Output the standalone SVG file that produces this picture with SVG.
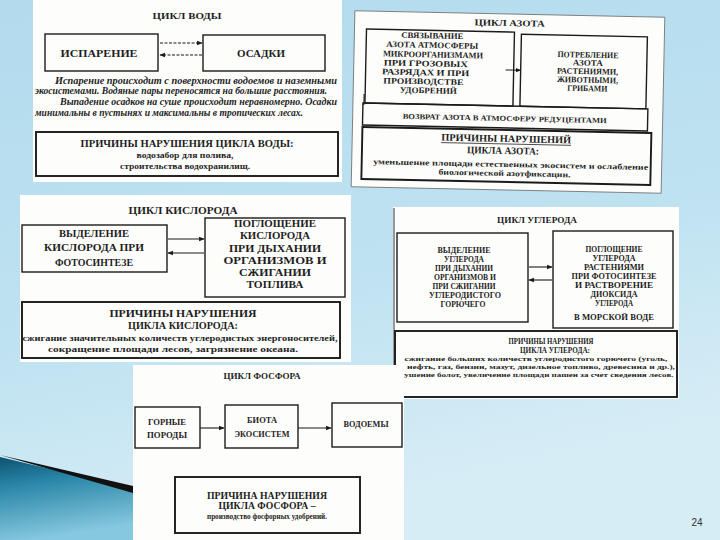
<svg xmlns="http://www.w3.org/2000/svg" width="720" height="540" viewBox="0 0 720 540">
<defs>
<linearGradient id="bg" x1="0" y1="0" x2="0.3" y2="1">
<stop offset="0" stop-color="#b2dbed"/>
<stop offset="0.6" stop-color="#bfe2f1"/>
<stop offset="1" stop-color="#d7edf6"/>
</linearGradient>
<linearGradient id="sw" x1="0" y1="0" x2="0.25" y2="1">
<stop offset="0" stop-color="#0c5272"/>
<stop offset="0.35" stop-color="#2a86a8"/>
<stop offset="1" stop-color="#86c8df"/>
</linearGradient>
<marker id="ah" viewBox="0 0 10 10" refX="9" refY="5" markerWidth="5" markerHeight="5" orient="auto"><path d="M0,1 L10,5 L0,9 z" fill="#1a1a1a"/></marker>
<style>
.pn{fill:#fdfdfb}
.bx{fill:none;stroke:#1b1b1b;stroke-width:1.4}
.bk{fill:none;stroke:#1b1b1b;stroke-width:1.9}
.t{font-family:"Liberation Serif","DejaVu Serif",serif;font-weight:bold;fill:#1e1e1e;text-anchor:middle}
.l{font-family:"Liberation Serif","DejaVu Serif",serif;font-weight:bold;fill:#262626;text-anchor:middle}
.it{font-family:"Liberation Serif","DejaVu Serif",serif;font-weight:bold;font-style:italic;fill:#1e1e1e;font-size:10px}
.cn{fill:none;stroke:#1b1b1b;stroke-width:1.1}
</style>
</defs>
<rect width="720" height="540" fill="url(#bg)"/>
<g id="swoosh">
<path d="M0,457 L133,489 L133,540 L0,540 Z" fill="url(#sw)"/>
<path d="M0,455 L133,486 L133,493 Z" fill="#111"/>
</g>

<g id="water">
<rect class="pn" x="33" y="0" width="309" height="182"/>
<text class="t" x="187" y="19" font-size="9" textLength="69" lengthAdjust="spacingAndGlyphs">ЦИКЛ ВОДЫ</text>
<g id="w-isparenie"><rect class="bx" x="45" y="34" width="113" height="37"/><text class="t" x="99" y="57" font-size="11" textLength="77" lengthAdjust="spacingAndGlyphs">ИСПАРЕНИЕ</text></g>
<g id="w-osadki"><rect class="bx" x="203" y="35" width="122" height="36"/><text class="t" x="261" y="57" font-size="10.5" textLength="48" lengthAdjust="spacingAndGlyphs">ОСАДКИ</text></g>
<text class="it" x="55" y="84" textLength="282" lengthAdjust="spacingAndGlyphs">Испарение происходит с поверхности водоемов и наземными</text>
<text class="it" x="35" y="94" textLength="292" lengthAdjust="spacingAndGlyphs">экосистемами. Водяные пары переносятся на большие расстояния.</text>
<text class="it" x="60" y="105" textLength="277" lengthAdjust="spacingAndGlyphs">Выпадение осадков на суше происходит неравномерно. Осадки</text>
<text class="it" x="35" y="116" textLength="268" lengthAdjust="spacingAndGlyphs">минимальны в пустынях и максимальны в тропических лесах.</text>
<g id="w-causes"><rect class="bk" x="36" y="132" width="302" height="44"/>
<text class="t" x="187" y="147" font-size="10" textLength="213" lengthAdjust="spacingAndGlyphs">ПРИЧИНЫ НАРУШЕНИЯ ЦИКЛА ВОДЫ:</text>
<text class="l" x="185" y="158" font-size="8.5" textLength="97" lengthAdjust="spacingAndGlyphs">водозабор для полива,</text>
<text class="l" x="185" y="169" font-size="8.5" textLength="130" lengthAdjust="spacingAndGlyphs">строительства водохранилищ.</text></g>
</g>

<g id="nitrogen" transform="rotate(1.2 508 102)">
<rect class="pn" x="353" y="14" width="310" height="176" stroke="#666" stroke-width="0.8"/>
<text class="t" x="508" y="26" font-size="9" textLength="70" lengthAdjust="spacingAndGlyphs">ЦИКЛ АЗОТА</text>
<g id="n-svyaz"><rect class="bx" x="365" y="32" width="148" height="74"/>
<text class="t" x="431" y="40" font-size="8.5" textLength="62" lengthAdjust="spacingAndGlyphs">СВЯЗЫВАНИЕ</text>
<text class="t" x="431" y="49.5" font-size="8.5" textLength="92" lengthAdjust="spacingAndGlyphs">АЗОТА АТМОСФЕРЫ</text>
<text class="t" x="432" y="59" font-size="8.5" textLength="100" lengthAdjust="spacingAndGlyphs">МИКРООРГАНИЗМАМИ</text>
<text class="t" x="425" y="68" font-size="8.5" textLength="84" lengthAdjust="spacingAndGlyphs">ПРИ ГРОЗОВЫХ</text>
<text class="t" x="425" y="77" font-size="8.5" textLength="87" lengthAdjust="spacingAndGlyphs">РАЗРЯДАХ И ПРИ</text>
<text class="t" x="423" y="86" font-size="8.5" textLength="80" lengthAdjust="spacingAndGlyphs">ПРОИЗВОДСТВЕ</text>
<text class="t" x="428" y="95" font-size="8.5" textLength="57" lengthAdjust="spacingAndGlyphs">УДОБРЕНИЙ</text></g>
<g id="n-potreb"><rect class="bx" x="520" y="34" width="126" height="72"/>
<text class="t" x="587" y="56" font-size="8.5" textLength="61" lengthAdjust="spacingAndGlyphs">ПОТРЕБЛЕНИЕ</text>
<text class="t" x="587" y="64" font-size="8.5" textLength="30" lengthAdjust="spacingAndGlyphs">АЗОТА</text>
<text class="t" x="587" y="72.5" font-size="8.5" textLength="61" lengthAdjust="spacingAndGlyphs">РАСТЕНИЯМИ,</text>
<text class="t" x="587" y="81" font-size="8.5" textLength="61" lengthAdjust="spacingAndGlyphs">ЖИВОТНЫМИ,</text>
<text class="t" x="587" y="89.5" font-size="8.5" textLength="40" lengthAdjust="spacingAndGlyphs">ГРИБАМИ</text></g>
<g id="n-return"><rect class="bx" x="363" y="106" width="285" height="22"/>
<text class="l" x="505" y="121" font-size="7.5" font-weight="normal" textLength="204" lengthAdjust="spacingAndGlyphs">ВОЗВРАТ АЗОТА В АТМОСФЕРУ РЕДУЦЕНТАМИ</text></g>
<g id="n-causes"><rect class="bk" x="363" y="130" width="289" height="52"/>
<text class="t" x="507" y="142" font-size="10" textLength="130" lengthAdjust="spacingAndGlyphs">ПРИЧИНЫ НАРУШЕНИЙ</text>
<line x1="442" y1="144" x2="572" y2="144" stroke="#222" stroke-width="0.8"/>
<text class="t" x="504" y="154" font-size="10" textLength="72" lengthAdjust="spacingAndGlyphs">ЦИКЛА АЗОТА:</text>
<text class="l" x="512" y="167" font-size="8" textLength="275" lengthAdjust="spacingAndGlyphs">уменьшение площади естественных экосистем и ослабление</text>
<text class="l" x="506" y="176" font-size="8" textLength="132" lengthAdjust="spacingAndGlyphs">биологической азотфиксации.</text></g>
</g>

<g id="oxygen">
<rect class="pn" x="20" y="195" width="331" height="167"/>
<text class="t" x="183" y="214" font-size="9.5" textLength="109" lengthAdjust="spacingAndGlyphs">ЦИКЛ КИСЛОРОДА</text>
<g id="o-vydel"><rect class="bx" x="22" y="225" width="145" height="47"/>
<text class="t" x="94" y="237" font-size="10.5" textLength="70" lengthAdjust="spacingAndGlyphs">ВЫДЕЛЕНИЕ</text>
<text class="t" x="94" y="251" font-size="10.5" textLength="100" lengthAdjust="spacingAndGlyphs">КИСЛОРОДА ПРИ</text>
<text class="t" x="94" y="266" font-size="10.5" textLength="78" lengthAdjust="spacingAndGlyphs">ФОТОСИНТЕЗЕ</text></g>
<g id="o-pogl"><rect class="bx" x="205" y="218" width="140" height="79"/>
<text class="t" x="275" y="227" font-size="10.5" textLength="82" lengthAdjust="spacingAndGlyphs">ПОГЛОЩЕНИЕ</text>
<text class="t" x="275" y="239" font-size="10.5" textLength="70" lengthAdjust="spacingAndGlyphs">КИСЛОРОДА</text>
<text class="t" x="275" y="252" font-size="10.5" textLength="92" lengthAdjust="spacingAndGlyphs">ПРИ ДЫХАНИИ</text>
<text class="t" x="275" y="264" font-size="10.5" textLength="103" lengthAdjust="spacingAndGlyphs">ОРГАНИЗМОВ И</text>
<text class="t" x="275" y="276" font-size="10.5" textLength="72" lengthAdjust="spacingAndGlyphs">СЖИГАНИИ</text>
<text class="t" x="275" y="288" font-size="10.5" textLength="57" lengthAdjust="spacingAndGlyphs">ТОПЛИВА</text></g>
<g id="o-causes"><rect class="bk" x="22" y="302" width="318" height="56"/>
<text class="t" x="183" y="317" font-size="10.5" textLength="147" lengthAdjust="spacingAndGlyphs">ПРИЧИНЫ НАРУШЕНИЯ</text>
<text class="t" x="183" y="329" font-size="10.5" textLength="110" lengthAdjust="spacingAndGlyphs">ЦИКЛА КИСЛОРОДА:</text>
<text class="l" x="180" y="341" font-size="8.5" textLength="315" lengthAdjust="spacingAndGlyphs">сжигание значительных количеств углеродистых энергоносителей,</text>
<text class="l" x="173" y="352" font-size="8.5" textLength="250" lengthAdjust="spacingAndGlyphs">сокращение площади лесов, загрязнение океана.</text></g>
</g>

<g id="carbon">
<rect class="pn" x="393" y="207" width="286" height="192"/>
<line x1="394" y1="208" x2="394" y2="366" stroke="#333" stroke-width="1"/>
<text class="t" x="537" y="223" font-size="8.5" textLength="80" lengthAdjust="spacingAndGlyphs">ЦИКЛ УГЛЕРОДА</text>
<g id="c-vydel"><rect class="bx" x="397" y="233" width="131" height="89"/>
<text class="t" x="464" y="253" font-size="8" textLength="53" lengthAdjust="spacingAndGlyphs">ВЫДЕЛЕНИЕ</text>
<text class="t" x="464" y="262" font-size="8" textLength="40" lengthAdjust="spacingAndGlyphs">УГЛЕРОДА</text>
<text class="t" x="464" y="271" font-size="8" textLength="58" lengthAdjust="spacingAndGlyphs">ПРИ ДЫХАНИИ</text>
<text class="t" x="465" y="280" font-size="8" textLength="62" lengthAdjust="spacingAndGlyphs">ОРГАНИЗМОВ И</text>
<text class="t" x="464" y="289" font-size="8" textLength="63" lengthAdjust="spacingAndGlyphs">ПРИ СЖИГАНИИ</text>
<text class="t" x="465" y="297.5" font-size="8" textLength="72" lengthAdjust="spacingAndGlyphs">УГЛЕРОДИСТОГО</text>
<text class="t" x="463" y="307" font-size="8" textLength="45" lengthAdjust="spacingAndGlyphs">ГОРЮЧЕГО</text></g>
<g id="c-pogl"><rect class="bx" x="553" y="231" width="120" height="97"/>
<text class="t" x="614" y="252" font-size="8" textLength="57" lengthAdjust="spacingAndGlyphs">ПОГЛОЩЕНИЕ</text>
<text class="t" x="614" y="261" font-size="8" textLength="43" lengthAdjust="spacingAndGlyphs">УГЛЕРОДА</text>
<text class="t" x="614" y="270" font-size="8" textLength="60" lengthAdjust="spacingAndGlyphs">РАСТЕНИЯМИ</text>
<text class="t" x="614" y="279" font-size="8" textLength="85" lengthAdjust="spacingAndGlyphs">ПРИ ФОТОСИНТЕЗЕ</text>
<text class="t" x="614" y="288" font-size="8" textLength="78" lengthAdjust="spacingAndGlyphs">И РАСТВОРЕНИЕ</text>
<text class="t" x="614" y="297" font-size="8" textLength="47" lengthAdjust="spacingAndGlyphs">ДИОКСИДА</text>
<text class="t" x="614" y="306" font-size="8" textLength="38" lengthAdjust="spacingAndGlyphs">УГЛЕРОДА</text>
<text class="t" x="614" y="320" font-size="8" textLength="80" lengthAdjust="spacingAndGlyphs">В МОРСКОЙ ВОДЕ</text></g>
<g id="c-causes"><rect class="bk" x="395" y="331" width="282" height="66"/>
<text class="t" x="551" y="344" font-size="8" textLength="85" lengthAdjust="spacingAndGlyphs">ПРИЧИНЫ НАРУШЕНИЯ</text>
<text class="t" x="555" y="352.5" font-size="8" textLength="70" lengthAdjust="spacingAndGlyphs">ЦИКЛА УГЛЕРОДА:</text>
<text class="l" x="536" y="361" font-size="7" textLength="263" lengthAdjust="spacingAndGlyphs">сжигание больших количеств углеродистого  горючего (уголь,</text>
<text class="l" x="541" y="369" font-size="7" textLength="268" lengthAdjust="spacingAndGlyphs">нефть, газ, бензин, мазут, дизельное топливо, древесина и др.),</text>
<text class="l" x="537" y="377" font-size="7" textLength="273" lengthAdjust="spacingAndGlyphs">сушение болот, увеличение площади пашен за счет сведения лесов.</text></g>
</g>

<g id="phosphorus">
<rect class="pn" x="133" y="365" width="271" height="175"/>
<text class="t" x="262" y="379" font-size="8" textLength="77" lengthAdjust="spacingAndGlyphs">ЦИКЛ ФОСФОРА</text>
<g id="p-rocks"><rect class="bx" x="135" y="407" width="65" height="41"/>
<text class="t" x="167" y="425" font-size="8" textLength="38" lengthAdjust="spacingAndGlyphs">ГОРНЫЕ</text>
<text class="t" x="167" y="438" font-size="8" textLength="40" lengthAdjust="spacingAndGlyphs">ПОРОДЫ</text></g>
<g id="p-biota"><rect class="bx" x="225" y="405" width="73" height="43"/>
<text class="t" x="262" y="423" font-size="8" textLength="30" lengthAdjust="spacingAndGlyphs">БИОТА</text>
<text class="t" x="262" y="437" font-size="8" textLength="55" lengthAdjust="spacingAndGlyphs">ЭКОСИСТЕМ</text></g>
<g id="p-water"><rect class="bx" x="332" y="403" width="70" height="44"/>
<text class="t" x="366" y="427" font-size="8" textLength="45" lengthAdjust="spacingAndGlyphs">ВОДОЕМЫ</text></g>
<g id="p-causes"><rect class="bk" x="175" y="477" width="185" height="56"/>
<text class="t" x="267" y="499" font-size="9.5" textLength="120" lengthAdjust="spacingAndGlyphs">ПРИЧИНА НАРУШЕНИЯ</text>
<text class="t" x="267" y="509" font-size="9.5" textLength="97" lengthAdjust="spacingAndGlyphs">ЦИКЛА ФОСФОРА –</text>
<text class="l" x="267" y="519" font-size="7.5" textLength="120" lengthAdjust="spacingAndGlyphs">производство фосфорных удобрений.</text></g>
</g>

<g id="connectors">
<line class="cn" x1="160" y1="43" x2="202" y2="43" stroke-dasharray="3 1.5" marker-end="url(#ah)"/>
<line class="cn" x1="202" y1="55" x2="160" y2="55" stroke-dasharray="3 1.5" marker-end="url(#ah)"/>
<g transform="rotate(1.2 508 102)">
<line class="cn" x1="505" y1="70" x2="520" y2="70" marker-end="url(#ah)"/>
<line class="cn" x1="364" y1="108" x2="364" y2="97"/>
</g>
<line class="cn" x1="168" y1="239" x2="204" y2="239" marker-end="url(#ah)"/>
<line class="cn" x1="204" y1="253" x2="168" y2="253" marker-end="url(#ah)"/>
<line class="cn" x1="529" y1="267" x2="552" y2="267" marker-end="url(#ah)"/>
<line class="cn" x1="552" y1="280" x2="529" y2="280" marker-end="url(#ah)"/>
<line class="cn" x1="200" y1="428" x2="224" y2="428" marker-end="url(#ah)"/>
<line class="cn" x1="298" y1="428" x2="331" y2="428" marker-end="url(#ah)"/>
</g>

<text x="697" y="526" font-family="Liberation Sans, Arial, sans-serif" font-size="10" fill="#333" text-anchor="middle">24</text>
</svg>
